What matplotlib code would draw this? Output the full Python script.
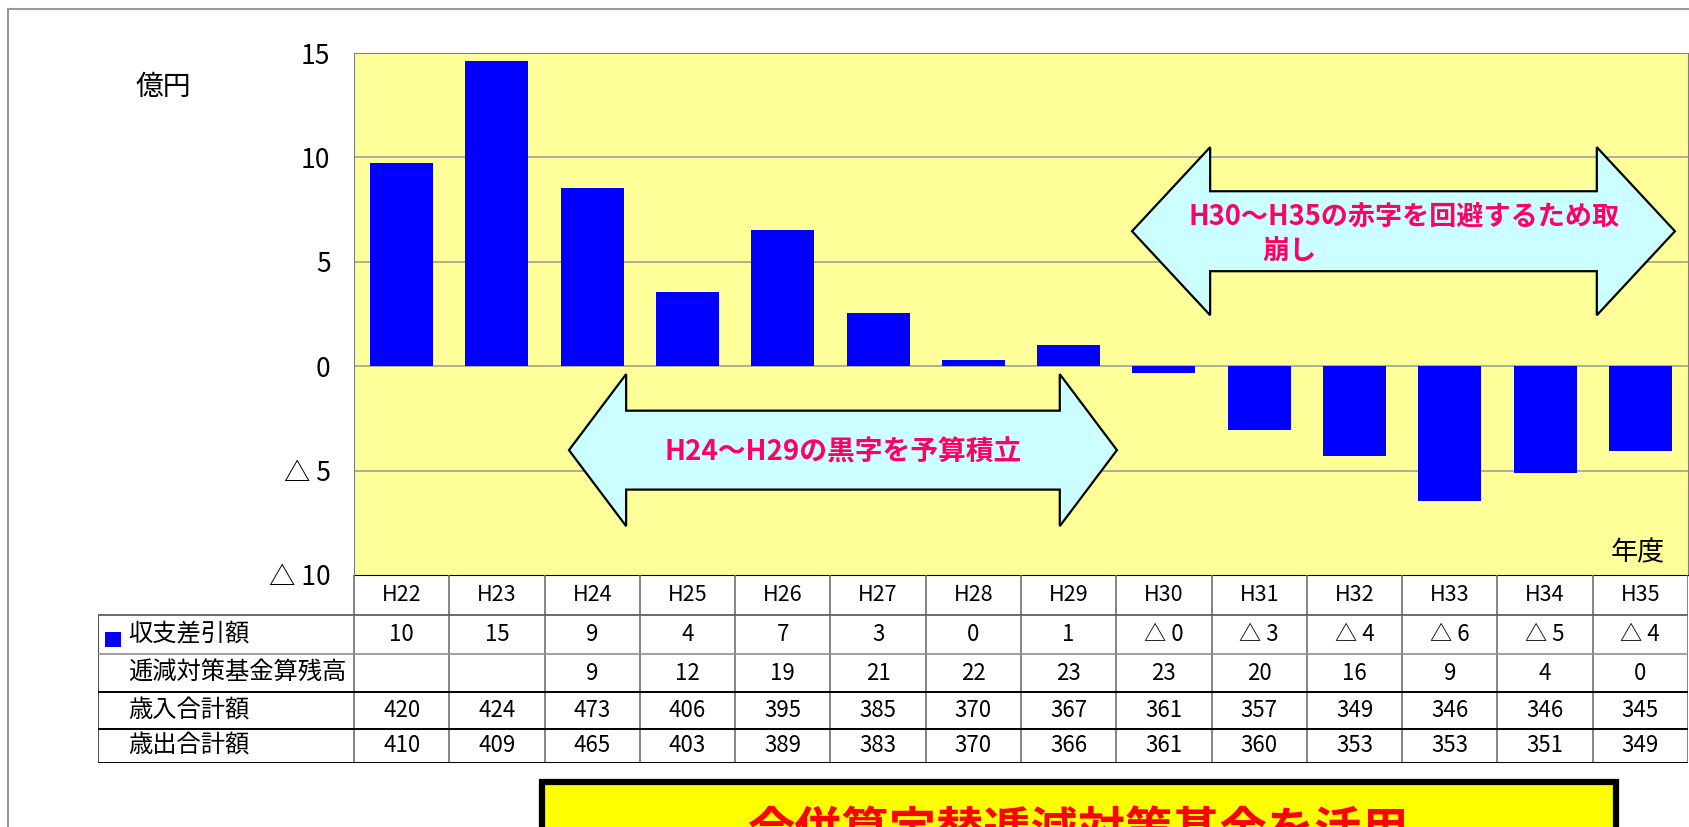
import numpy as np
import matplotlib.pyplot as plt
from matplotlib.patches import Polygon, Rectangle
from matplotlib.lines import Line2D

plt.rcParams['font.family'] = ['Noto Sans CJK JP', 'DejaVu Sans']

# data
years = ['H22', 'H23', 'H24', 'H25', 'H26', 'H27', 'H28',
         'H29', 'H30', 'H31', 'H32', 'H33', 'H34', 'H35']
balance = [9.72, 14.63, 8.53, 3.57, 6.51, 2.53, 0.31,
           1.03, -0.31, -3.05, -4.29, -6.46, -5.12, -4.08]
balance_txt = ['10', '15', '9', '4', '7', '3', '0',
               '1', '△ 0', '△ 3', '△ 4', '△ 6', '△ 5', '△ 4']
fund_txt = ['', '', '9', '12', '19', '21', '22',
            '23', '23', '20', '16', '9', '4', '0']
revenue = [420, 424, 473, 406, 395, 385, 370, 367, 361, 357, 349, 346, 346, 345]
expense = [410, 409, 465, 403, 389, 383, 370, 366, 361, 360, 353, 353, 351, 349]
row_labels = ['収支差引額', '逓減対策基金算残高', '歳入合計額', '歳出合計額']
yticks = [15, 10, 5, 0, -5, -10]
ytick_labels = ['15', '10', '5', '0', '△ 5', '△ 10']

W, H = 1690, 827
fig = plt.figure(figsize=(W / 100, H / 100), dpi=100)


def box(l, t, r, b):
    return [l / W, 1 - b / H, (r - l) / W, (b - t) / H]


# outer frame (only top and left visible)
fig.add_artist(Line2D([8 / W, 8 / W], [0, 1 - 9 / H], color='#999999', lw=1.5))
fig.add_artist(Line2D([8 / W, 1], [1 - 9 / H, 1 - 9 / H], color='#999999', lw=1.5))

# main bar chart
ax = fig.add_axes(box(354, 53, 1688, 575))
ax.set_facecolor('#FFFF99')
x = np.arange(len(years))
ax.bar(x, balance, width=0.66, color='#0000FF', zorder=3)
ax.set_xlim(-0.5, len(years) - 0.5)
ax.set_ylim(-10, 15)
ax.set_yticks(yticks)
ax.set_yticklabels(ytick_labels, fontsize=19)
ax.set_xticks([])
ax.tick_params(axis='y', length=0, pad=17)
for v in [10, 5, 0, -5]:
    ax.axhline(v, color='#A0A0A0', lw=1.2, zorder=1)
for s in ['top', 'right', 'left']:
    ax.spines[s].set_color('#808080')
ax.spines['bottom'].set_color('black')


def double_arrow(x0, x1, yc, shaft, head, hl):
    pts = [(x0, yc), (x0 + hl, yc + head), (x0 + hl, yc + shaft),
           (x1 - hl, yc + shaft), (x1 - hl, yc + head), (x1, yc),
           (x1 - hl, yc - head), (x1 - hl, yc - shaft),
           (x0 + hl, yc - shaft), (x0 + hl, yc - head)]
    ax.add_patch(Polygon(pts, closed=True, facecolor='#CCFFFF',
                         edgecolor='black', lw=1.6, zorder=4))


double_arrow(1.756, 7.507, -4.02, 1.89, 3.64, 0.6)
double_arrow(7.665, 13.363, 6.465, 1.915, 4.025, 0.82)

pink = '#FF0066'
ax.text(4.63, -4.12, 'H24～H29の黒字を予算積立', color=pink, fontsize=20,
        fontweight='bold', ha='center', va='center', zorder=5)
ax.text(8.263, 7.14, 'H30～H35の赤字を回避するため取', color=pink, fontsize=19.5,
        fontweight='bold', ha='left', va='center', zorder=5)
ax.text(9.029, 5.51, '崩し', color=pink, fontsize=19.5,
        fontweight='bold', ha='left', va='center', zorder=5)

fig.text(163 / W, 1 - 87 / H, '億円', fontsize=20, ha='center', va='center')
fig.text(1638 / W, 1 - 553 / H, '年度', fontsize=19.5, ha='center', va='center')

# data table under the chart
tx = fig.add_axes(box(98, 575, 1688, 763))
left = -0.5 - (354 - 98) * len(years) / (1688 - 354)
tx.set_xlim(left, len(years) - 0.5)
tx.set_ylim(763, 575)
tx.axis('off')
rows = [575, 615, 654, 692, 729, 763]

for i in range(len(years) + 1):
    tx.plot([i - 0.5, i - 0.5], [rows[0], rows[-1]], color='#707070', lw=1.2)
tx.plot([left, left], [rows[1], rows[-1]], color='#505050', lw=1.5)
tx.plot([left, len(years) - 0.5], [rows[1], rows[1]], color='#606060', lw=1.3)
tx.plot([left, len(years) - 0.5], [rows[2], rows[2]], color='#909090', lw=1.2)
for r in rows[3:]:
    tx.plot([left, len(years) - 0.5], [r, r], color='black', lw=1.4)

cell_rows = [balance_txt, fund_txt, [str(v) for v in revenue], [str(v) for v in expense]]
for i, yr in enumerate(years):
    tx.text(i, (rows[0] + rows[1]) / 2, yr, fontsize=15.5, ha='center', va='center')
    for j, vals in enumerate(cell_rows):
        tx.text(i, (rows[j + 1] + rows[j + 2]) / 2, vals[i], fontsize=16,
                ha='center', va='center')
for j, lab in enumerate(row_labels):
    fig.text(128 / W, 1 - (rows[j + 1] + rows[j + 2]) / 2 / H, lab,
             fontsize=17.5, ha='left', va='center')

# legend key for the bars
fig.add_artist(Rectangle((105 / W, 1 - 647 / H), 16 / W, 15 / H,
                         transform=fig.transFigure, facecolor='#0000FF',
                         edgecolor='none'))

# yellow banner at the bottom (cut off by the image edge)
fig.add_artist(Rectangle((542 / W, 1 - (H + 30) / H), (1616 - 542) / W, (H + 30 - 782) / H,
                         transform=fig.transFigure, facecolor='#FFFF00',
                         edgecolor='black', lw=4.5))
fig.text(1078 / W, 1 - 832 / H, '合併算定替逓減対策基金を活用', color='#FF0000',
         fontsize=34, fontweight='bold', ha='center', va='center')

fig.savefig('out.png', dpi=100)
